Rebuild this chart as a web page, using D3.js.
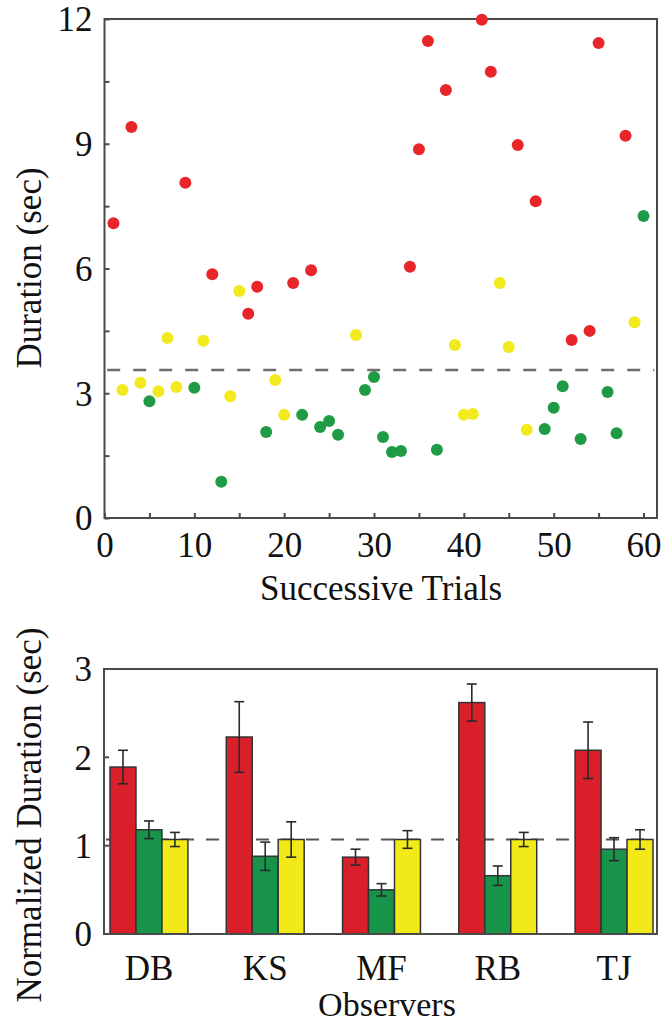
<!DOCTYPE html>
<html>
<head>
<meta charset="utf-8">
<script src="https://cdn.jsdelivr.net/npm/d3@7"></script>
<style>
  html, body { margin: 0; padding: 0; background: #fff; }
  svg { display: block; }
  text { font-family: "Liberation Serif", "Times New Roman", serif; fill: #111; }
</style>
</head>
<body>
<svg id="chart" width="661" height="1026"></svg>
<script>
// ---------- DATA: top scatter (trial number, duration in sec) ----------
const redTrials    = [1, 3, 9, 12, 16, 17, 21, 23, 34, 35, 36, 38, 42, 43, 46, 48, 52, 54, 55, 58];
const redDurations = [7.09, 9.40, 8.06, 5.86, 4.91, 5.56, 5.65, 5.96, 6.04, 8.87, 11.47, 10.29, 11.98, 10.73, 8.97, 7.62, 4.28, 4.50, 11.42, 9.19];

const greenTrials    = [5, 10, 13, 18, 22, 24, 25, 26, 29, 30, 31, 32, 33, 37, 49, 50, 51, 53, 56, 57, 60];
const greenDurations = [2.81, 3.13, 0.87, 2.07, 2.48, 2.19, 2.33, 2.00, 3.08, 3.39, 1.95, 1.59, 1.61, 1.64, 2.14, 2.65, 3.17, 1.90, 3.03, 2.04, 7.26];

const yellowTrials    = [2, 4, 6, 7, 8, 11, 14, 15, 19, 20, 28, 39, 40, 41, 44, 45, 47, 59];
const yellowDurations = [3.08, 3.25, 3.05, 4.33, 3.15, 4.26, 2.93, 5.46, 3.32, 2.48, 4.40, 4.16, 2.48, 2.50, 5.65, 4.11, 2.12, 4.71];

const scatterRefLevel = 3.56;
const scatterYTickLabels = [0, 3, 6, 9, 12];
const scatterYMinorTicks = [1.5, 4.5, 7.5, 10.5];
const scatterXTickLabels = [0, 10, 20, 30, 40, 50, 60];
const scatterXMinorTicks = [5, 15, 25, 35, 45, 55];

// ---------- DATA: bottom bars (normalized duration) ----------
const observers   = ["DB", "KS", "MF", "RB", "TJ"];
const redMeans    = [1.89, 2.23, 0.87, 2.62, 2.08];
const redErr      = [0.19, 0.40, 0.09, 0.21, 0.32];
const greenMeans  = [1.18, 0.88, 0.50, 0.66, 0.96];
const greenErr    = [0.10, 0.16, 0.07, 0.11, 0.13];
const yellowMeans = [1.07, 1.07, 1.07, 1.07, 1.07];
const yellowErr   = [0.08, 0.20, 0.10, 0.08, 0.11];
const barRefLevel = 1.07;
const barYTickLabels = [0, 1, 2, 3];
const barYTicks = [1, 2];

// ---------- STYLE ----------
const COLORS = {
  red: "#e8262a", green: "#1f9a45", yellow: "#f3e91f",
  barRed: "#d91f29", barGreen: "#17934a", barYellow: "#f2ea18",
  frame: "#4a4a4a", dash: "#6e6e6e"
};

const svg = d3.select("#chart");

// ================= TOP SCATTER =================
const topBox = { left: 104.5, right: 657, top: 19, bottom: 518 };
const x1 = d3.scaleLinear().domain([0, 61.5]).range([topBox.left, topBox.right]);
const y1 = d3.scaleLinear().domain([0, 12]).range([topBox.bottom, topBox.top]);

const g1 = svg.append("g");

// reference dashed line
g1.append("line")
  .attr("x1", x1(0.3)).attr("x2", x1(61.2))
  .attr("y1", y1(scatterRefLevel)).attr("y2", y1(scatterRefLevel))
  .attr("stroke", COLORS.dash).attr("stroke-width", 2.5)
  .attr("stroke-dasharray", "13,13");

// frame
g1.append("rect")
  .attr("x", topBox.left).attr("y", topBox.top)
  .attr("width", topBox.right - topBox.left).attr("height", topBox.bottom - topBox.top)
  .attr("fill", "none").attr("stroke", COLORS.frame).attr("stroke-width", 2);

// y axis (ticks inward)
const yAxis1 = d3.axisLeft(y1)
  .tickValues(scatterYTickLabels.concat(scatterYMinorTicks))
  .tickSize(-5)
  .tickFormat(d => scatterYTickLabels.includes(d) ? d : "");
const ya1 = g1.append("g").attr("transform", `translate(${topBox.left},0)`).call(yAxis1);
ya1.select(".domain").remove();
ya1.selectAll("line").attr("stroke", COLORS.frame).attr("stroke-width", 2);
ya1.selectAll("text")
  .attr("x", -12).attr("dy", "0.34em")
  .style("font-size", "35px").style("font-family", "Liberation Serif, serif").attr("fill", "#111");

// x axis (ticks inward)
const xAxis1 = d3.axisBottom(x1)
  .tickValues(scatterXTickLabels.concat(scatterXMinorTicks))
  .tickSize(-5)
  .tickFormat(d => scatterXTickLabels.includes(d) ? d : "");
const xa1 = g1.append("g").attr("transform", `translate(0,${topBox.bottom})`).call(xAxis1);
xa1.select(".domain").remove();
xa1.selectAll("line").attr("stroke", COLORS.frame).attr("stroke-width", 2);
xa1.selectAll("text")
  .attr("y", 39).attr("dy", 0)
  .style("font-size", "35px").style("font-family", "Liberation Serif, serif").attr("fill", "#111");

// points
function drawSeries(trials, values, color) {
  g1.append("g").selectAll("circle")
    .data(trials.map((t, i) => ({ t, v: values[i] })))
    .join("circle")
    .attr("cx", d => x1(d.t))
    .attr("cy", d => y1(d.v))
    .attr("r", 6)
    .attr("fill", color);
}
drawSeries(yellowTrials, yellowDurations, COLORS.yellow);
drawSeries(greenTrials, greenDurations, COLORS.green);
drawSeries(redTrials, redDurations, COLORS.red);

// titles
g1.append("text")
  .attr("x", 381).attr("y", 600)
  .attr("text-anchor", "middle")
  .style("font-size", "35px")
  .text("Successive Trials");
g1.append("text")
  .attr("transform", `translate(41,${268}) rotate(-90)`)
  .attr("text-anchor", "middle")
  .style("font-size", "35px")
  .text("Duration (sec)");

// ================= BOTTOM BARS =================
const botBox = { left: 104, right: 657, top: 669, bottom: 934 };
const x2 = d3.scaleBand().domain(observers).range([110, 653]).paddingInner(0.33).paddingOuter(0);
const sub = d3.scaleBand().domain(["red", "green", "yellow"]).range([0, x2.bandwidth()]).padding(0);
const y2 = d3.scaleLinear().domain([0, 3]).range([botBox.bottom, botBox.top]);

const g2 = svg.append("g");

// reference dashed line (behind bars)
g2.append("line")
  .attr("x1", botBox.left + 2).attr("x2", botBox.right - 2)
  .attr("y1", y2(barRefLevel)).attr("y2", y2(barRefLevel))
  .attr("stroke", "#555").attr("stroke-width", 2)
  .attr("stroke-dasharray", "13,12");

const seriesDefs = [
  { key: "red", means: redMeans, errs: redErr, color: COLORS.barRed },
  { key: "green", means: greenMeans, errs: greenErr, color: COLORS.barGreen },
  { key: "yellow", means: yellowMeans, errs: yellowErr, color: COLORS.barYellow }
];

seriesDefs.forEach(s => {
  const data = observers.map((o, i) => ({ o, v: s.means[i], e: s.errs[i] }));
  g2.append("g").selectAll("rect")
    .data(data).join("rect")
    .attr("x", d => x2(d.o) + sub(s.key))
    .attr("y", d => y2(d.v))
    .attr("width", sub.bandwidth())
    .attr("height", d => y2(0) - y2(d.v))
    .attr("fill", s.color)
    .attr("stroke", "#333").attr("stroke-width", 1.5);
});

// error bars
seriesDefs.forEach(s => {
  const data = observers.map((o, i) => ({ o, v: s.means[i], e: s.errs[i] }));
  const eg = g2.append("g").attr("stroke", "#2a2a2a").attr("stroke-width", 1.6);
  const cx = d => x2(d.o) + sub(s.key) + sub.bandwidth() / 2;
  eg.selectAll(".stem").data(data).join("line").attr("class", "stem")
    .attr("x1", cx).attr("x2", cx)
    .attr("y1", d => y2(d.v + d.e)).attr("y2", d => y2(d.v - d.e));
  eg.selectAll(".capT").data(data).join("line").attr("class", "capT")
    .attr("x1", d => cx(d) - 5).attr("x2", d => cx(d) + 5)
    .attr("y1", d => y2(d.v + d.e)).attr("y2", d => y2(d.v + d.e));
  eg.selectAll(".capB").data(data).join("line").attr("class", "capB")
    .attr("x1", d => cx(d) - 5).attr("x2", d => cx(d) + 5)
    .attr("y1", d => y2(d.v - d.e)).attr("y2", d => y2(d.v - d.e));
});

// frame
g2.append("rect")
  .attr("x", botBox.left).attr("y", botBox.top)
  .attr("width", botBox.right - botBox.left).attr("height", botBox.bottom - botBox.top)
  .attr("fill", "none").attr("stroke", COLORS.frame).attr("stroke-width", 2);

// y axis
const yAxis2 = d3.axisLeft(y2)
  .tickValues(barYTickLabels)
  .tickSize(0)
  .tickFormat(d => d);
const ya2 = g2.append("g").attr("transform", `translate(${botBox.left},0)`).call(yAxis2);
ya2.select(".domain").remove();
ya2.selectAll("text")
  .attr("x", -12).attr("dy", "0.34em")
  .style("font-size", "35px").style("font-family", "Liberation Serif, serif").attr("fill", "#111");
// inward tick marks
g2.append("g").selectAll("line").data(barYTicks).join("line")
  .attr("x1", botBox.left).attr("x2", botBox.left + 5)
  .attr("y1", d => y2(d)).attr("y2", d => y2(d))
  .attr("stroke", COLORS.frame).attr("stroke-width", 2);

// x axis category labels
const xAxis2 = d3.axisBottom(x2).tickSize(0);
const xa2 = g2.append("g").attr("transform", `translate(0,${botBox.bottom})`).call(xAxis2);
xa2.select(".domain").remove();
xa2.selectAll("text")
  .attr("y", 46).attr("dy", 0)
  .style("font-size", "35px").style("font-family", "Liberation Serif, serif").attr("fill", "#111");

// titles
g2.append("text")
  .attr("x", 387).attr("y", 1016)
  .attr("text-anchor", "middle")
  .style("font-size", "34px")
  .text("Observers");
g2.append("text")
  .attr("transform", `translate(41,${815}) rotate(-90)`)
  .attr("text-anchor", "middle")
  .style("font-size", "35px")
  .text("Normalized Duration (sec)");
</script>
</body>
</html>
